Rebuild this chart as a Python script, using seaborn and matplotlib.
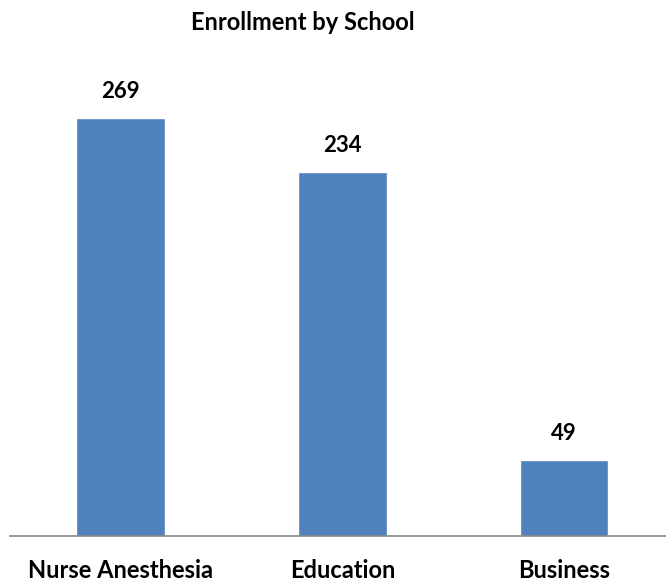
import matplotlib
matplotlib.use("Agg")
import matplotlib.pyplot as plt
import seaborn as sns
import pandas as pd

schools = ["Nurse Anesthesia", "Education", "Business"]
enrollment = [269, 234, 49]
title = "Enrollment by School"

sns.set_theme(style="white")
plt.rcParams['font.family'] = ['Lato', 'DejaVu Sans']

df = pd.DataFrame({"School": schools, "Enrollment": enrollment})

fig = plt.figure(figsize=(6.66, 5.84), dpi=100)
ax = fig.add_axes([10/666, 1 - 536/584, 656/666, 476/584])
sns.barplot(data=df, x="School", y="Enrollment", color="#4F81BD", saturation=1,
            width=0.40, ax=ax)
ax.set_xlim(-0.50, 2.46)
ax.set_ylim(0, 306)
for spine in ["top", "right", "left"]:
    ax.spines[spine].set_visible(False)
ax.spines["bottom"].set_color("#868686")
ax.spines["bottom"].set_linewidth(1.2)
ax.set_yticks([])
ax.set_xlabel("")
ax.set_ylabel("")
ax.tick_params(axis="x", length=0, pad=30)
for lab in ax.get_xticklabels():
    lab.set_fontsize(17)
    lab.set_fontweight("bold")
    lab.set_color("black")
    lab.set_verticalalignment("baseline")
for c in ax.containers:
    for p, v in zip(c.patches, enrollment):
        ax.annotate(str(v), (p.get_x() + p.get_width() / 2, p.get_height()),
                    xytext=(0, 14.4), textcoords="offset points",
                    ha="center", va="baseline",
                    fontsize=16, fontweight="bold", color="black")
fig.text(303/666, 1 - 30/584, title, ha="center", va="baseline",
         fontsize=17, fontweight="bold", color="black")
fig.savefig("out.png", dpi=100)
